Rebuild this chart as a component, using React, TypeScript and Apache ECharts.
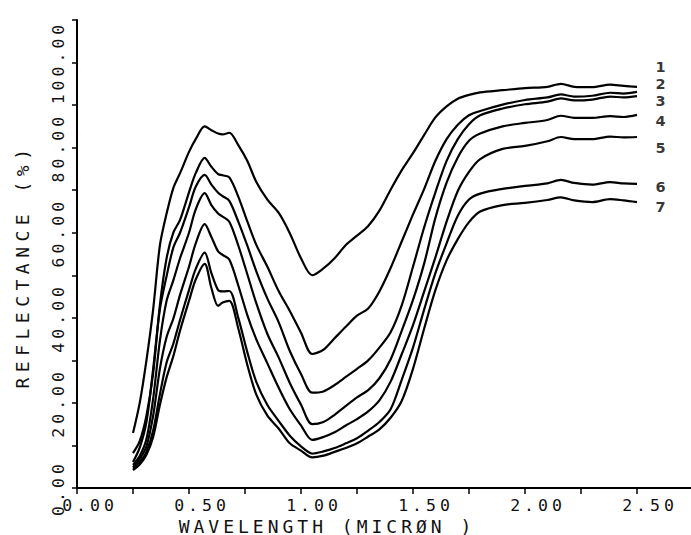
import React, { useEffect, useRef } from "react";
import * as echarts from "echarts";

const wavelength = [0.25, 0.28, 0.31, 0.34, 0.37, 0.40, 0.43, 0.46, 0.50, 0.53, 0.57, 0.60, 0.63, 0.65, 0.68, 0.72, 0.76, 0.80, 0.85, 0.90, 0.95, 1.00, 1.05, 1.10, 1.15, 1.20, 1.25, 1.30, 1.35, 1.40, 1.45, 1.50, 1.55, 1.60, 1.65, 1.70, 1.75, 1.80, 1.90, 2.00, 2.10, 2.16, 2.22, 2.30, 2.38, 2.44, 2.50];

const curve1 = [12.9, 20, 30, 42, 57, 64.5, 70.5, 74, 79, 82, 85, 84.1, 83.3, 83.1, 83.5, 80.6, 76.9, 72, 67.8, 64.7, 59.9, 54, 50, 51.6, 54, 57.1, 59.3, 61.6, 65.2, 70.1, 74.7, 78.7, 83, 87.1, 89.7, 91.5, 92.4, 93, 93.5, 94, 94.3, 95, 94.3, 94.2, 94.8, 94.5, 94.3];
const curve2 = [8.2, 11, 17, 27, 43, 54, 60, 63, 69.5, 74, 77.6, 75.5, 73.8, 73.5, 73, 68.5, 62.7, 57.2, 52, 46.3, 41.6, 36.5, 31.5, 32.5, 35.2, 37.9, 40.5, 42.2, 46.2, 51.7, 58, 64.3, 70.3, 76.9, 82, 85.4, 87.6, 88.6, 90.1, 91.2, 91.8, 92.5, 92, 92.2, 92.9, 92.7, 93.1];
const curve3 = [6.1, 9.5, 15.5, 28, 42, 49.8, 56.5, 60, 66, 70.8, 73.6, 71.3, 69.4, 68.6, 67.5, 62.6, 57, 51, 44.5, 39, 32.2, 26.8, 22.4, 22.7, 24.2, 26.1, 28, 30, 33, 36.6, 43, 52, 61.3, 69.5, 76.9, 82, 85.5, 87.6, 89.2, 90.2, 90.8, 91.6, 91.1, 91.3, 92, 91.8, 92.1];
const curve4 = [5.4, 7.5, 11.5, 21, 34.6, 44, 48.8, 54, 60, 65.5, 69.3, 66.5, 64.5, 63.8, 62.6, 57, 50.3, 43.5, 36.2, 30.7, 24.7, 19.6, 15, 15.5, 17.2, 19.3, 21.3, 23, 25.8, 30.2, 37, 44.2, 52.8, 63.5, 71.8, 77.7, 81.6, 83.3, 85, 85.8, 86.5, 87.5, 87, 87, 87.4, 87.2, 87.7];
const curve5 = [4.9, 6.8, 9.8, 17, 28, 35.5, 39.8, 45.4, 52, 57.5, 62, 59, 55.6, 54.8, 53.7, 47.6, 40.7, 35, 29.3, 23.6, 18.5, 14.7, 11.3, 12, 13.1, 14.7, 16.2, 18, 20.6, 25, 31.5, 38.3, 46.2, 54.2, 62.6, 69.8, 74.3, 77.3, 79.7, 80.4, 81.5, 82.5, 82, 82, 82.6, 82.4, 82.5];
const curve6 = [4.5, 6, 8.5, 13.5, 22, 29.5, 33.9, 39.5, 46.5, 51.5, 55.3, 50.5, 46.5, 46.2, 46.3, 40, 32, 25, 19.5, 15.8, 12.3, 9.8, 8.1, 8.6, 9.4, 10.5, 11.7, 13.5, 15.5, 18.5, 25.5, 33, 42, 50.5, 57.5, 64, 67.8, 69.2, 70.3, 71, 71.6, 72.4, 71.7, 71.3, 71.9, 71.6, 71.5];
const curve7 = [4.2, 5.5, 7.8, 12, 19.5, 26, 31, 37, 44, 49, 52.7, 47, 42.8, 43.6, 44, 37.5, 29, 22, 17, 14, 10.5, 8.8, 7.2, 7.6, 8.5, 9.4, 10.5, 12.1, 13.8, 16.5, 20.5, 28, 37.5, 46.5, 53.5, 58.5, 62.5, 65, 66.5, 67, 67.7, 68.3, 67.6, 67.2, 67.9, 67.6, 67.2];

const curves = [curve1, curve2, curve3, curve4, curve5, curve6, curve7];
const curveNames = ["1", "2", "3", "4", "5", "6", "7"];
const labelYValues = [99, 94.9, 90.9, 86.3, 80, 70.8, 66.1];
const labelX = 2.605;

const xTitle = "WAVELENGTH (MICRØN )";
const yTitle = "REFLECTANCE (%)";

const FONT = "DejaVu Sans Mono";

export default function App() {
  const ref = useRef<HTMLDivElement>(null);
  useEffect(() => {
    const el = ref.current!;
    const chart = echarts.init(el, undefined, { renderer: "svg" });
    const series: any[] = curves.map((c, i) => ({
      type: "line",
      name: curveNames[i],
      data: wavelength.map((w, j) => [w, c[j]]),
      showSymbol: false,
      symbol: "none",
      smooth: 0.3,
      lineStyle: { color: "#000", width: 2.2 },
      silent: true,
      z: 3,
    }));
    series.push({
      type: "scatter",
      data: labelYValues.map((v) => [labelX, v]),
      symbolSize: 0,
      silent: true,
      label: {
        show: true,
        position: "inside",
        formatter: (p: any) => curveNames[p.dataIndex],
        color: "#000",
        fontFamily: "DejaVu Sans",
        fontWeight: "bold",
        fontSize: 14.5,
        lineHeight: 12,
      },
    });
    chart.setOption({
      animation: false,
      backgroundColor: "#fff",
      grid: { left: 77, top: 20, width: 616, height: 468, containLabel: false, outerBoundsMode: "none" },
      xAxis: {
        type: "value",
        min: 0,
        max: 2.75,
        interval: 0.25,
        axisLine: { show: true, onZero: false, lineStyle: { color: "#000", width: 2 } },
        axisTick: { show: true, length: 6, lineStyle: { color: "#000", width: 1.5 } },
        splitLine: { show: false },
        axisLabel: {
          margin: 9,
          color: "#111",
          fontFamily: FONT,
          fontSize: 16.5,
          lineHeight: 16,
          padding: [0, 0, 0, 26],
          showMaxLabel: true,
          showMinLabel: true,
          formatter: (v: number) => (Math.abs(v * 2 - Math.round(v * 2)) < 1e-6 ? v.toFixed(2) : ""),
        },
      },
      yAxis: {
        type: "value",
        min: 0,
        max: 110,
        interval: 10,
        axisLine: { show: true, lineStyle: { color: "#000", width: 2 } },
        axisTick: { show: true, length: 5, lineStyle: { color: "#000", width: 1.5 } },
        splitLine: { show: false },
        axisLabel: {
          margin: 10,
          rotate: 90,
          color: "#111",
          fontFamily: FONT,
          fontSize: 16.5,
          showMaxLabel: true,
          formatter: (v: number) => (v % 20 === 0 ? v.toFixed(2) : ""),
        },
      },
      graphic: [
        {
          type: "text",
          x: 327,
          y: 526,
          style: { text: xTitle, fill: "#111", font: `18px "${FONT}"`, align: "center", verticalAlign: "middle" },
        },
        {
          type: "text",
          x: 22,
          y: 266,
          rotation: Math.PI / 2,
          style: { text: yTitle, fill: "#111", font: `18px "${FONT}"`, align: "center", verticalAlign: "middle" },
        },
      ],
      series,
    });
    const spacing = () => {
      el.querySelectorAll("text").forEach((t) => {
        const s = t.textContent || "";
        let ls = 4;
        if (s.startsWith("REFLECT")) ls = 5.5;
        if (s.length <= 1) ls = 0;
        (t as SVGTextElement).style.letterSpacing = ls + "px";
      });
    };
    spacing();
    chart.on("finished", spacing);
    const tm = setTimeout(spacing, 50);
    return () => {
      clearTimeout(tm);
      chart.dispose();
    };
  }, []);
  return <div ref={ref} style={{ position: "fixed", left: 0, top: 0, width: 691, height: 535 }} />;
}
